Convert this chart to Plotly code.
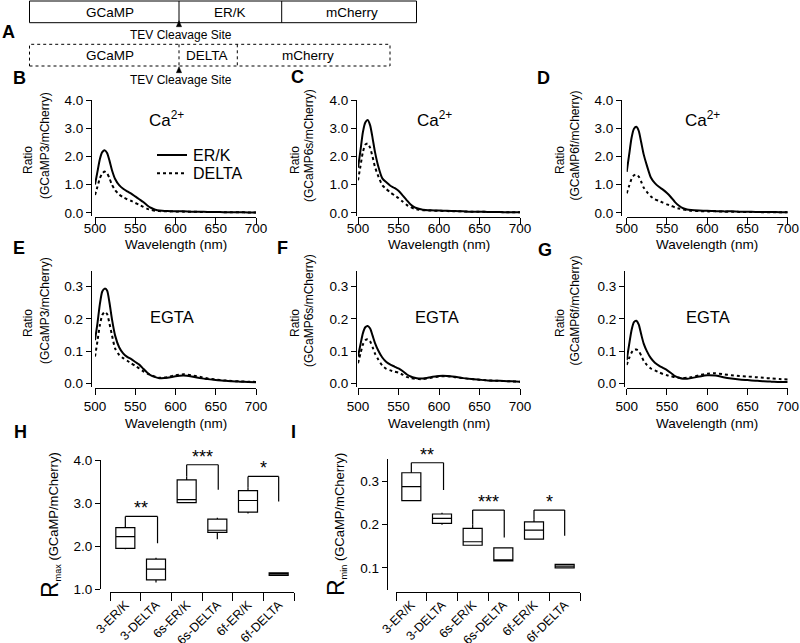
import plotly.graph_objects as go

W, H = 800, 643
FONT = "Liberation Sans, Arial, sans-serif"

# ---------------- data ----------------
wl = [500, 503, 506, 509, 512, 515, 518, 521, 525, 530, 535, 540, 545, 550, 555, 560,
      565, 570, 575, 580, 590, 600, 610, 620, 630, 640, 650, 660, 670, 680, 690, 700]

# Ca2+ spectra (ratio GCaMP/mCherry)
b_erk = [1.00, 1.45, 1.90, 2.15, 2.22, 2.12, 1.85, 1.52, 1.20, 0.98, 0.85, 0.76, 0.68, 0.58, 0.48, 0.38,
         0.26, 0.17, 0.11, 0.08, 0.06, 0.05, 0.05, 0.04, 0.04, 0.03, 0.03, 0.02, 0.02, 0.02, 0.01, 0.01]
b_delta = [0.63, 0.92, 1.22, 1.40, 1.46, 1.40, 1.22, 1.00, 0.80, 0.65, 0.55, 0.48, 0.42, 0.35, 0.28, 0.21,
           0.14, 0.10, 0.07, 0.06, 0.05, 0.05, 0.04, 0.04, 0.03, 0.03, 0.03, 0.02, 0.02, 0.02, 0.01, 0.01]
c_erk = [1.60, 2.20, 2.85, 3.20, 3.29, 3.10, 2.65, 2.15, 1.65, 1.22, 1.08, 0.96, 0.88, 0.78, 0.62, 0.45,
         0.29, 0.19, 0.14, 0.11, 0.09, 0.08, 0.07, 0.06, 0.05, 0.04, 0.04, 0.03, 0.03, 0.02, 0.02, 0.02]
c_delta = [1.15, 1.65, 2.15, 2.42, 2.46, 2.30, 1.98, 1.62, 1.30, 0.98, 0.84, 0.72, 0.62, 0.52, 0.40, 0.28,
           0.20, 0.14, 0.11, 0.09, 0.08, 0.07, 0.06, 0.05, 0.05, 0.04, 0.04, 0.03, 0.03, 0.02, 0.02, 0.02]
d_erk = [1.45, 2.05, 2.65, 2.98, 3.05, 2.90, 2.50, 2.08, 1.68, 1.25, 1.05, 0.92, 0.82, 0.70, 0.55, 0.38,
         0.25, 0.16, 0.12, 0.10, 0.08, 0.07, 0.06, 0.05, 0.05, 0.04, 0.04, 0.03, 0.03, 0.03, 0.02, 0.02]
d_delta = [0.69, 0.95, 1.20, 1.33, 1.36, 1.28, 1.10, 0.90, 0.74, 0.58, 0.48, 0.42, 0.36, 0.30, 0.25, 0.19,
           0.15, 0.12, 0.09, 0.07, 0.06, 0.05, 0.05, 0.04, 0.04, 0.03, 0.03, 0.03, 0.02, 0.02, 0.02, 0.02]

# EGTA spectra
e_erk = [0.134, 0.185, 0.245, 0.285, 0.294, 0.288, 0.250, 0.200, 0.148, 0.112, 0.093, 0.082, 0.075, 0.066, 0.058, 0.045,
         0.033, 0.024, 0.019, 0.016, 0.017, 0.022, 0.024, 0.021, 0.016, 0.013, 0.010, 0.008, 0.006, 0.005, 0.004, 0.003]
e_delta = [0.083, 0.130, 0.180, 0.212, 0.222, 0.215, 0.185, 0.150, 0.108, 0.088, 0.078, 0.070, 0.062, 0.054, 0.046, 0.037,
           0.030, 0.025, 0.020, 0.017, 0.019, 0.025, 0.028, 0.025, 0.020, 0.015, 0.012, 0.009, 0.007, 0.006, 0.005, 0.004]
f_erk = [0.083, 0.120, 0.155, 0.174, 0.178, 0.170, 0.148, 0.125, 0.102, 0.080, 0.066, 0.058, 0.052, 0.046, 0.038, 0.028,
         0.021, 0.017, 0.015, 0.015, 0.019, 0.023, 0.023, 0.020, 0.016, 0.013, 0.011, 0.009, 0.008, 0.007, 0.006, 0.005]
f_delta = [0.062, 0.092, 0.120, 0.134, 0.137, 0.130, 0.112, 0.092, 0.074, 0.055, 0.045, 0.040, 0.036, 0.033, 0.027, 0.020,
           0.016, 0.014, 0.013, 0.013, 0.017, 0.021, 0.022, 0.019, 0.016, 0.013, 0.011, 0.009, 0.008, 0.007, 0.006, 0.005]
g_erk = [0.072, 0.120, 0.165, 0.190, 0.194, 0.182, 0.152, 0.124, 0.100, 0.078, 0.064, 0.055, 0.048, 0.041, 0.032, 0.022,
         0.017, 0.014, 0.014, 0.016, 0.021, 0.025, 0.024, 0.019, 0.015, 0.012, 0.010, 0.008, 0.006, 0.005, 0.004, 0.004]
g_delta = [0.057, 0.078, 0.095, 0.104, 0.105, 0.100, 0.086, 0.070, 0.057, 0.046, 0.040, 0.034, 0.029, 0.025, 0.022, 0.019,
           0.017, 0.016, 0.017, 0.019, 0.025, 0.030, 0.031, 0.028, 0.025, 0.023, 0.021, 0.019, 0.017, 0.015, 0.013, 0.012]

sensor_labels = ["GCaMP3", "GCaMP6s", "GCaMP6f"]
wl_ticks = [500, 550, 600, 650, 700]
ca_ticks = [0, 1, 2, 3, 4]
egta_ticks = [0, 0.1, 0.2, 0.3]

# Box plots
box_cats = ["3-ER/K", "3-DELTA", "6s-ER/K", "6s-DELTA", "6f-ER/K", "6f-DELTA"]
rmax_low = [1.93, 1.16, 3.01, 2.16, 2.76, 1.31]
rmax_q1 = [1.95, 1.22, 3.01, 2.32, 2.79, 1.32]
rmax_med = [2.22, 1.47, 3.08, 2.37, 3.06, 1.35]
rmax_q3 = [2.43, 1.70, 3.54, 2.63, 3.29, 1.38]
rmax_high = [2.45, 1.73, 3.62, 2.66, 3.36, 1.39]
rmin_low = [0.255, 0.199, 0.152, 0.115, 0.166, 0.100]
rmin_q1 = [0.255, 0.2025, 0.152, 0.116, 0.166, 0.100]
rmin_med = [0.287, 0.214, 0.160, 0.117, 0.187, 0.104]
rmin_q3 = [0.319, 0.224, 0.191, 0.146, 0.206, 0.108]
rmin_high = [0.319, 0.227, 0.200, 0.146, 0.212, 0.108]
rmax_ticks = [1, 2, 3, 4]
rmin_ticks = [0.1, 0.2, 0.3]

# significance brackets: (left cat, right cat, left bottom, top, right bottom, stars)
sig_left = [0, 2, 4]
sig_right = [1.05, 3.03, 5.0]
sig_stars = ["**", "***", "*"]
rmax_sig_lbot = [2.43, 3.62, 3.36]
rmax_sig_top = [2.69, 3.89, 3.62]
rmax_sig_rbot = [2.07, 3.31, 3.04]
rmin_sig_lbot = [0.319, 0.200, 0.212]
rmin_sig_top = [0.342, 0.233, 0.233]
rmin_sig_rbot = [0.279, 0.170, 0.174]

# ---------------- helpers ----------------
def px(x):
    return x / W

def py(y):
    return 1 - y / H

fig = go.Figure()
layout = dict(width=W, height=H, margin=dict(l=0, r=0, t=0, b=0, pad=0, autoexpand=False),
              autosize=False,
              paper_bgcolor="white", plot_bgcolor="white", showlegend=False,
              font=dict(family=FONT, color="black", size=13))
shapes = []
annotations = []

def ax_name(kind, i):
    return f"{kind}axis" if i == 1 else f"{kind}axis{i}"

def ref(kind, i):
    return kind if i == 1 else f"{kind}{i}"

def text(x, y, s, size=13, **kw):
    d = dict(x=px(x), y=py(y), xref="paper", yref="paper", text=s, showarrow=False,
             xanchor="center", yanchor="middle",
             font=dict(family=FONT, size=size, color="black"))
    d.update(kw)
    annotations.append(d)

base_axis = dict(showgrid=False, zeroline=False, showline=True, linecolor="black", linewidth=1,
                 ticks="outside", tickcolor="black", tickwidth=1, automargin=False,
                 tickfont=dict(family=FONT, size=13.5))

# geometry of spectral panels (pixels)
cols = [dict(x0=95, x1=256, yx=[91, 90.7], rx=28, lx=45, ca=146.7, eg=171.7),
        dict(x0=358, x1=520, yx=[356, 356], rx=295, lx=309, ca=415, eg=437),
        dict(x0=626.7, x1=787.7, yx=[621, 624], rx=560, lx=574.5, ca=683.3, eg=707.5)]
rows = [dict(ytop=100, ybot=215.6, xline=216.5, yr=[-0.1, 4.0], tv=ca_ticks,
             tt=[f"{v:.1f}" for v in ca_ticks], ry=160, ly=146, wy=244, stand=-7),
        dict(ytop=270.6, ybot=386.5, xline=387.5, yr=[-0.01, 0.35], tv=egta_ticks,
             tt=[f"{v:.1f}" for v in egta_ticks], ry=323, ly=311, wy=423, stand=0)]
series = [[(b_erk, b_delta), (c_erk, c_delta), (d_erk, d_delta)],
          [(e_erk, e_delta), (f_erk, f_delta), (g_erk, g_delta)]]

idx = 0
for r, row in enumerate(rows):
    for c, col in enumerate(cols):
        idx += 1
        erk, delta = series[r][c]
        xa = dict(base_axis, domain=[px(col["x0"]), px(col["x1"])], range=[500, 700],
                  anchor="free", position=py(row["xline"]), tickvals=wl_ticks, ticklen=6,
                  ticklabelstandoff=row["stand"])
        ya = dict(base_axis, domain=[py(row["ybot"]), py(row["ytop"])], range=row["yr"],
                  anchor="free", position=px(col["yx"][r]), tickvals=row["tv"], ticktext=row["tt"], ticklen=5)
        layout[ax_name("x", idx)] = xa
        layout[ax_name("y", idx)] = ya
        fig.add_trace(go.Scatter(x=wl, y=erk, mode="lines", name="ER/K",
                                 line=dict(color="black", width=2, shape="spline", smoothing=0.6),
                                 xaxis=ref("x", idx), yaxis=ref("y", idx)))
        fig.add_trace(go.Scatter(x=wl, y=delta, mode="lines", name="DELTA",
                                 line=dict(color="black", width=2, dash="dot", shape="spline", smoothing=0.6),
                                 xaxis=ref("x", idx), yaxis=ref("y", idx)))
        # axis titles
        text((col["x0"] + col["x1"]) / 2, row["wy"], "Wavelength (nm)", size=13.5)
        text(col["rx"], row["ry"], "Ratio", size=12, textangle=-90)
        text(col["lx"], row["ly"], f"({sensor_labels[c]}/mCherry)", size=12, textangle=-90)
        if r == 0:
            text(col["ca"], 119, "Ca<sup>2+</sup>", size=17, xanchor="left")
        else:
            text(col["eg"], 317, "EGTA", size=16.5)

# legend in panel B
for yy, dash, lab in [(155, "solid", "ER/K"), (173.3, "dot", "DELTA")]:
    shapes.append(dict(type="line", xref="paper", yref="paper", x0=px(157), x1=px(187),
                       y0=py(yy), y1=py(yy), line=dict(color="black", width=2, dash=dash)))
    text(191, yy, lab, size=16, xanchor="left")

# ---------------- box plots ----------------
box_geo = [dict(i=7, x0=110, x1=294, yx=100, ytop=460, ybot=589.3, yr=[1.0, 4.0], tv=rmax_ticks,
                tt=[f"{v:.1f}" for v in rmax_ticks],
                data=(rmax_low, rmax_q1, rmax_med, rmax_q3, rmax_high),
                sig=(rmax_sig_lbot, rmax_sig_top, rmax_sig_rbot), title="max", tx=50),
           dict(i=8, x0=396, x1=580, yx=386.7, ytop=459.3, ybot=589.5, yr=[0.05, 0.35], tv=rmin_ticks,
                tt=[f"{v:.1f}" for v in rmin_ticks],
                data=(rmin_low, rmin_q1, rmin_med, rmin_q3, rmin_high),
                sig=(rmin_sig_lbot, rmin_sig_top, rmin_sig_rbot), title="min", tx=336)]

for g in box_geo:
    i = g["i"]
    low, q1, med, q3, high = g["data"]
    layout[ax_name("x", i)] = dict(base_axis, domain=[px(g["x0"]), px(g["x1"])], type="category",
                                   categoryorder="array", categoryarray=box_cats, range=[-0.5, 5.5],
                                   anchor="free", position=py(591.7), tickson="boundaries", ticklen=8,
                                   tickangle=-45, tickfont=dict(family=FONT, size=12.5))
    layout[ax_name("y", i)] = dict(base_axis, domain=[py(g["ybot"]), py(g["ytop"])], range=g["yr"],
                                   anchor="free", position=px(g["yx"]), tickvals=g["tv"], ticktext=g["tt"],
                                   ticklen=5)
    fig.add_trace(go.Box(x=box_cats, q1=q1, median=med, q3=q3, lowerfence=low, upperfence=high,
                         line=dict(color="black", width=1.2), fillcolor="rgba(0,0,0,0)",
                         whiskerwidth=0, width=0.62, boxpoints=False,
                         xaxis=ref("x", i), yaxis=ref("y", i)))
    lbot, top, rbot = g["sig"]
    for k in range(3):
        xl, xr = sig_left[k], sig_right[k]
        for (a, b, c0, d0) in [(xl, xl, lbot[k], top[k]), (xl, xr, top[k], top[k]), (xr, xr, top[k], rbot[k])]:
            shapes.append(dict(type="line", xref=ref("x", i), yref=ref("y", i), x0=a, x1=b, y0=c0, y1=d0,
                               line=dict(color="black", width=1.2)))
        annotations.append(dict(x=(xl + xr) / 2, y=top[k], xref=ref("x", i), yref=ref("y", i),
                                text=sig_stars[k], showarrow=False, xanchor="center", yanchor="bottom",
                                yshift=-4, font=dict(family=FONT, size=18, color="black")))
    text(g["tx"], 525, f"<span style='font-size:23px'>R</span><sub>{g['title']}</sub> (GCaMP/mCherry)",
         size=13, textangle=-90)

# ---------------- panel A diagram ----------------
def rect(x0, y0, x1, y1, dash):
    shapes.append(dict(type="rect", xref="paper", yref="paper", x0=px(x0), x1=px(x1), y0=py(y1), y1=py(y0),
                       line=dict(color="black", width=1, dash=dash), fillcolor="rgba(0,0,0,0)"))

def vline(x, y0, y1, dash):
    shapes.append(dict(type="line", xref="paper", yref="paper", x0=px(x), x1=px(x), y0=py(y0), y1=py(y1),
                       line=dict(color="black", width=1, dash=dash)))

def tri(x, ytip, ybase):
    shapes.append(dict(type="path", xref="paper", yref="paper",
                       path=f"M {px(x-2.6)},{py(ybase)} L {px(x+2.6)},{py(ybase)} L {px(x)},{py(ytip)} Z",
                       fillcolor="black", line=dict(color="black", width=0.5)))

rect(29.5, 1, 416.5, 22.7, "solid")
vline(179, 1, 22.7, "solid")
vline(281.7, 1, 22.7, "solid")
rect(29.5, 44.3, 390, 66, "dot")
vline(179, 44.3, 66, "dot")
vline(237.3, 44.3, 66, "dot")
tri(179, 20.7, 26.7)
tri(179, 66.7, 72.7)
text(110, 12.3, "GCaMP", size=13.5)
text(230, 12.3, "ER/K", size=13.5)
text(352, 12.3, "mCherry", size=13.5)
text(110, 55, "GCaMP", size=13.5)
text(206.7, 55, "DELTA", size=13.5)
text(308, 55, "mCherry", size=13.5)
text(181, 35, "TEV Cleavage Site", size=12)
text(181, 80, "TEV Cleavage Site", size=12)

# panel letters
for lab, x, y in [("A", 8.5, 32), ("B", 19, 78), ("C", 297, 77), ("D", 543, 78),
                  ("E", 19, 248), ("F", 282, 248), ("G", 545, 250), ("H", 20, 432), ("I", 293, 432)]:
    text(x, y, f"<b>{lab}</b>", size=18)

layout["shapes"] = shapes
layout["annotations"] = annotations
fig.update_layout(**layout)
fig.write_html("out.html", config={"displayModeBar": False, "staticPlot": False},
               post_script="document.body.style.margin='0';document.body.style.padding='0';"
                           "document.body.style.overflow='hidden';")
